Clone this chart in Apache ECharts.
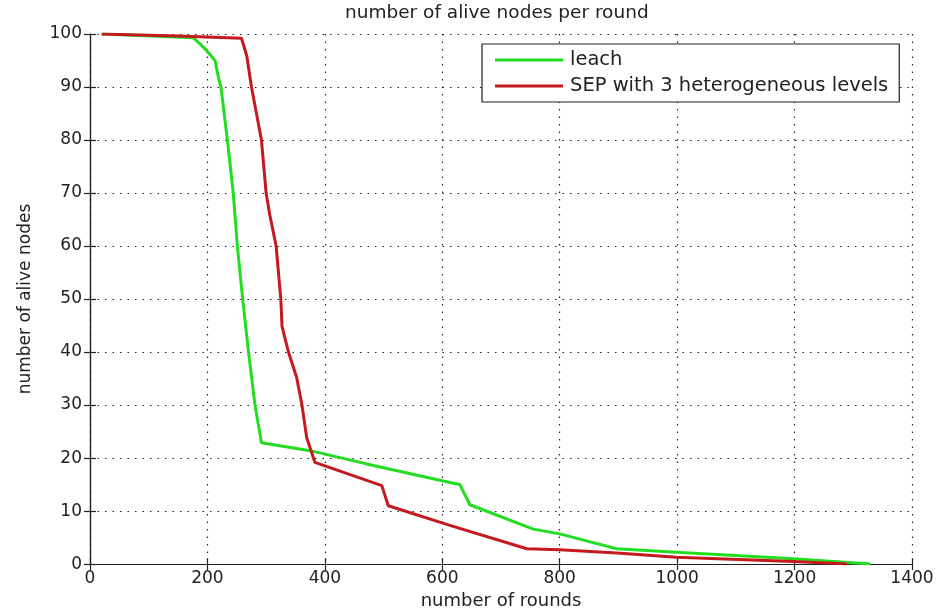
<!DOCTYPE html>
<html>
<head>
<meta charset="utf-8">
<script src="https://cdn.jsdelivr.net/npm/echarts@6/dist/echarts.min.js"></script>
<style>
html,body{margin:0;padding:0;background:#fff;}
#chart{width:939px;height:615px;}
</style>
</head>
<body>
<div id="chart"></div>
<script>
// ---- data ----
var titleText = 'number of alive nodes per round';
var xName = 'number of rounds';
var yName = 'number of alive nodes';
var seriesNames = ['leach', 'SEP with 3 heterogeneous levels'];

var leachX = [20, 176, 196, 213, 218, 223, 234, 244, 251, 260, 270, 281, 292, 375, 471, 613, 630, 647, 755, 800, 897, 999, 1198, 1329];
var leachY = [100, 99.3, 97.2, 95.0, 92.2, 90, 80, 70, 60, 50, 40, 30, 22.9, 21.4, 18.9, 15.4, 15.0, 11.2, 6.6, 5.7, 2.9, 2.25, 1.0, 0];

var sepX = [20, 150, 258, 267, 275, 292, 300, 306, 317, 325, 327, 338, 352, 361, 369, 383, 497, 508, 613, 744, 800, 897, 999, 1198, 1289];
var sepY = [100, 99.6, 99.2, 95.9, 90, 80, 70, 66, 60, 50, 44.9, 40, 35.2, 30, 23.9, 19.2, 14.8, 11.0, 7.3, 2.9, 2.7, 2.1, 1.3, 0.5, 0];

var xMin = 0, xMax = 1400, xStep = 200;
var yMin = 0, yMax = 100, yStep = 10;

function pairs(xs, ys) {
  var out = [];
  for (var i = 0; i < xs.length; i++) out.push([xs[i], ys[i]]);
  return out;
}

var FONT = 'DejaVu Sans';
var chart = echarts.init(document.getElementById('chart'), null, {renderer: 'canvas'});

var gridLine = {show: true, lineStyle: {color: '#222', width: 1.2, type: [1.5, 6]}};
var axisLineStyle = {show: true, lineStyle: {color: '#222', width: 1.2}};
var plain = function (v) { return String(v); };

var option = {
  backgroundColor: '#fff',
  animation: false,
  title: {
    text: titleText,
    left: 345, top: 4, padding: 0,
    textStyle: {fontFamily: FONT, fontSize: 18.5, fontWeight: 'normal', color: '#222'}
  },
  legend: {
    orient: 'vertical',
    left: 482, top: 44,
    padding: [5, 11, 5, 13],
    itemGap: 4,
    itemWidth: 68,
    itemHeight: 3,
    icon: 'rect',
    backgroundColor: '#fff',
    borderColor: '#222',
    borderWidth: 1.2,
    borderRadius: 0,
    textStyle: {fontFamily: FONT, fontSize: 19.5, color: '#222', lineHeight: 22, padding: [0, 0, 0, 2]},
    data: seriesNames
  },
  grid: {left: 90, right: 27, top: 34, bottom: 48, show: false},
  xAxis: [{
    type: 'value', min: xMin, max: xMax, interval: xStep, position: 'bottom',
    name: xName, nameLocation: 'middle', nameGap: 27,
    nameTextStyle: {fontFamily: FONT, fontSize: 18, color: '#222'},
    axisLine: axisLineStyle,
    axisTick: {show: true, inside: true, length: 6, lineStyle: {color: '#222', width: 1.2}},
    axisLabel: {fontFamily: FONT, fontSize: 17, color: '#222', margin: 6, formatter: plain},
    splitLine: gridLine
  }, {
    type: 'value', min: xMin, max: xMax, interval: xStep, position: 'top',
    axisLine: axisLineStyle,
    axisTick: {show: true, inside: true, length: 6, lineStyle: {color: '#222', width: 1.2}},
    axisLabel: {show: false},
    splitLine: {show: false}
  }],
  yAxis: [{
    type: 'value', min: yMin, max: yMax, interval: yStep, position: 'left',
    name: yName, nameLocation: 'middle', nameGap: 56,
    nameTextStyle: {fontFamily: FONT, fontSize: 17, color: '#222'},
    axisLine: axisLineStyle,
    axisTick: {show: true, inside: true, length: 6, lineStyle: {color: '#222', width: 1.2}},
    axisLabel: {fontFamily: FONT, fontSize: 17, color: '#222', margin: 8, formatter: plain},
    splitLine: gridLine
  }, {
    type: 'value', min: yMin, max: yMax, interval: yStep, position: 'right',
    axisLine: axisLineStyle,
    axisTick: {show: true, inside: true, length: 6, lineStyle: {color: '#222', width: 1.2}},
    axisLabel: {show: false},
    splitLine: {show: false}
  }],
  series: [{
    name: seriesNames[0], type: 'line', xAxisIndex: 0, yAxisIndex: 0,
    showSymbol: false, symbol: 'none',
    itemStyle: {color: '#22dd22'},
    lineStyle: {color: '#22dd22', width: 3},
    data: pairs(leachX, leachY)
  }, {
    name: seriesNames[1], type: 'line', xAxisIndex: 0, yAxisIndex: 0,
    showSymbol: false, symbol: 'none',
    itemStyle: {color: '#c41a1f'},
    lineStyle: {color: '#c41a1f', width: 3},
    data: pairs(sepX, sepY)
  }]
};
chart.setOption(option);
</script>
</body>
</html>
